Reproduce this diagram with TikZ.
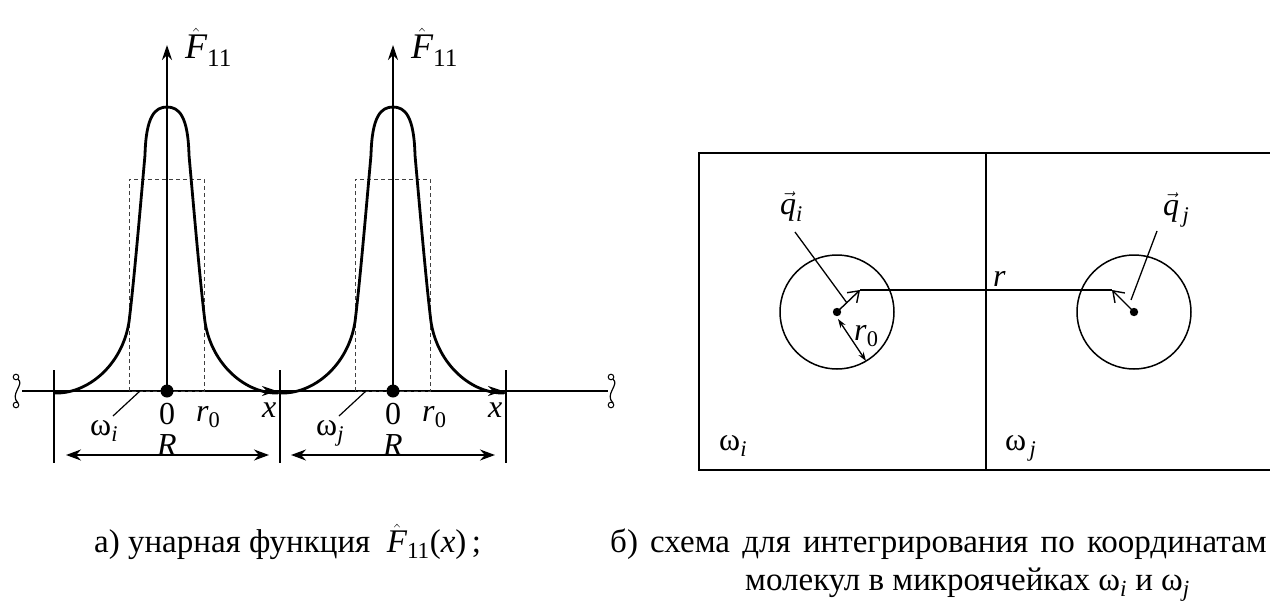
\documentclass[tikz,border=0pt]{standalone}
\usepackage{amsmath}
\usepackage{fontspec}
\setmainfont{Liberation Serif}
\usetikzlibrary{arrows.meta}
\tikzset{
  lbl/.style={inner sep=0pt, font=\fontsize{32}{36}\selectfont},
  biglbl/.style={inner sep=0pt, font=\fontsize{36}{40}\selectfont},
  capt/.style={inner sep=0pt, anchor=base west, font=\fontsize{33}{38}\selectfont},
  curvestroke/.style={line width=2.8pt, line join=round, line cap=round},
  thinline/.style={line width=1.4pt},
  boxline/.style={line width=2pt},
  dashbox/.style={line width=0.9pt, dash pattern=on 4pt off 3pt, black!75},
  dimarrow/.style={line width=1.6pt, {Stealth[length=15pt,width=11pt]}-{Stealth[length=15pt,width=11pt]}},
  axisarrow/.style={line width=1.6pt, -{Stealth[length=15pt,width=10pt]}},
  vecarrow/.style={line width=1.4pt, -{Straight Barb[length=10pt,width=14pt,line width=1.4pt]}},
  radarrow/.style={line width=1.3pt, {Stealth[length=9pt,width=6pt]}-{Stealth[length=9pt,width=6pt]}},
}
\newcommand{\wsp}{\ \hspace{4pt}}
\begin{document}
\begin{tikzpicture}[x=1pt,y=-1pt]
\useasboundingbox (0,0) rectangle (1270,605);

% ---------- left part: unary function ----------
\coordinate (axL) at (22,391);
\coordinate (axR) at (608,391);
\draw[thinline] (axL) -- (axR);
\foreach \sx/\nm in {17/sqL, 612/sqR}{
  \coordinate (\nm) at (\sx,391);
  \draw[line width=1pt] (\sx-1,377) circle (2.8);
  \draw[line width=1pt] (\sx-1,405) circle (2.8);
  \draw[line width=1.2pt] (\sx+1,379) .. controls (\sx+8,385) and (\sx-8,394) .. (\sx+1,403);
}
\foreach \bx/\nm in {54/barA, 280/barB, 506/barC}{
  \coordinate (\nm t) at (\bx,370);
  \coordinate (\nm b) at (\bx,463);
  \draw[thinline] (\nm t) -- (\nm b);
}
\coordinate (dA1) at (66,455);  \coordinate (dA2) at (269,455);
\coordinate (dB1) at (291,455); \coordinate (dB2) at (495,455);
\draw[dimarrow] (dA1) -- (dA2);
\draw[dimarrow] (dB1) -- (dB2);

\foreach \cx/\sub/\nm in {167/i/P, 393/j/Q}{
  \begin{scope}[shift={(\cx,391)}]
    \coordinate (o\nm) at (0,0);
    \coordinate (top\nm) at (0,-346);
    \draw[dashbox] (-38,0) rectangle (37,-212);
    \draw[axisarrow] (o\nm) -- (top\nm);
    \coordinate (xs\nm) at (90,0);
    \coordinate (xe\nm) at (110,0);
    \draw[axisarrow] (xs\nm) -- (xe\nm);
    \draw[curvestroke] (-112,2) .. controls (-80,3) and (-45,-25) .. (-38,-69)
      .. controls (-33,-110) and (-27,-180) .. (-22,-236)
      .. controls (-21,-275) and (-12,-284) .. (0,-284)
      .. controls (12,-284) and (21,-275) .. (22,-236)
      .. controls (27,-180) and (33,-110) .. (38,-69)
      .. controls (45,-25) and (80,3) .. (111,2);
    \fill (o\nm) circle (6.5);
    \node[biglbl, anchor=base west] (F\nm) at (18,-333) {$\hat{\textit{F}}_{\text{11}}$};
    \node[lbl, anchor=base] (zero\nm) at (0,33) {0};
    \node[lbl, anchor=base west] (rz\nm) at (29,30) {\textit{r}$_{\text{0}}$};
    \node[lbl, anchor=base west] (x\nm) at (95,26) {\textit{x}};
    \node[lbl, anchor=base] (R\nm) at (0,64) {\textit{R}};
    \node[lbl, anchor=base west] (w\nm) at (-77,44) {ω$_{\textit{\sub}}$};
    \coordinate (wl1\nm) at (-54,25);
    \coordinate (wl2\nm) at (-27,0);
    \draw[line width=1.2pt] (wl1\nm) -- (wl2\nm);
  \end{scope}
}

% ---------- right part: two micro-cells ----------
\begin{scope}
  \clip (680,140) rectangle (1270,480);
  \coordinate (bTL) at (699,153);
  \coordinate (bBL) at (699,470);
  \coordinate (bTR) at (1290,153);
  \coordinate (bBR) at (1290,470);
  \draw[boxline] (bTR) -- (bTL) -- (bBL) -- (bBR);
  \coordinate (divT) at (986,153);
  \coordinate (divB) at (986,470);
  \draw[boxline] (divT) -- (divB);
\end{scope}

\coordinate (ci) at (837,312);
\coordinate (cj) at (1134,312);
\draw[line width=1.5pt] (ci) circle (57);
\draw[line width=1.5pt] (cj) circle (57);
\fill (ci) circle (4.2);
\fill (cj) circle (4.2);
\coordinate (qi) at (860,290);
\coordinate (qj) at (1112,290);
\draw[vecarrow] (ci) -- (qi);
\draw[vecarrow] (cj) -- (qj);
\draw[thinline] (qi) -- (qj);
\coordinate (ri1) at (838,319);
\coordinate (ri2) at (866,361);
\draw[radarrow] (ri1) -- (ri2);
\node[lbl, anchor=base west] (lqi) at (780,214) {$\vec{\textit{q}}_{\textit{i}}$};
\node[lbl, anchor=base west] (lqj) at (1163,215) {$\vec{\textit{q}}_{\,\textit{j}}$};
\coordinate (lqia) at (795,232);
\coordinate (lqib) at (847,303);
\coordinate (lqja) at (1157,231);
\coordinate (lqjb) at (1131,300);
\draw[line width=1.3pt] (lqia) -- (lqib);
\draw[line width=1.3pt] (lqja) -- (lqjb);
\node[lbl, anchor=base west] (lr) at (993,286) {\textit{r}};
\node[lbl, anchor=base west] (lr0) at (854,340) {\textit{r}$_{\text{0}}$};
\node[lbl, anchor=base west] (lwi) at (719,450) {ω$_{\textit{i}}$};
\node[lbl, anchor=base west] (lwj) at (1005,450) {ω$_{\,\textit{j}}$};

% ---------- captions ----------
\node[capt] (capA) at (94,552) {а) унарная функция \ ${\hat{\textit{F}}}_{\text{11}}$(\textit{x})\,;};
\node[capt] (capB1) at (610,552) {б)\wsp схема\wsp для\wsp интегрирования\wsp по\wsp координатам};
\node[capt] (capB2) at (745,590) {молекул в микроячейках ω$_{\textit{i}}$ и ω$_{\textit{j}}$};
\end{tikzpicture}
\end{document}
